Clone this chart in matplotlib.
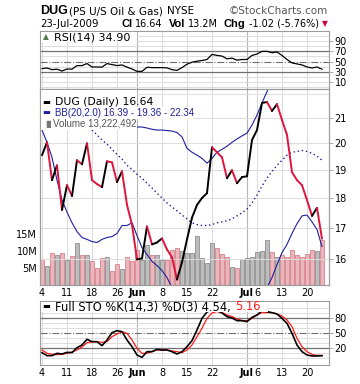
import matplotlib
matplotlib.use("Agg")
import matplotlib.pyplot as plt
import numpy as np
from matplotlib.collections import LineCollection
from matplotlib.patches import Rectangle
from matplotlib.ticker import NullFormatter, NullLocator

# ---------------------------------------------------------------------------
# Data (4-May-2009 .. 23-Jul-2009, 57 sessions)
# ---------------------------------------------------------------------------
tick_idx = [0, 5, 10, 15, 19, 24, 29, 34, 41, 43, 48, 53]
tick_labels = ["4", "11", "18", "26", "Jun", "8", "15", "22", "Jul", "6", "13", "20"]
month_labels = ["Jun", "Jul"]

close = [19.55, 20.04, 18.63, 19.17, 17.59, 18.45, 18.07, 19.36, 19.21, 20.00,
         18.63, 18.49, 18.38, 19.32, 19.28, 18.56, 18.95, 17.76, 17.10, 15.99,
         16.02, 17.04, 16.46, 16.52, 16.65, 16.30, 16.05, 15.38, 15.90, 16.62,
         17.33, 17.76, 18.00, 18.17, 19.85, 19.66, 19.47, 18.70, 18.99, 18.52,
         18.74, 18.77, 20.13, 20.52, 21.62, 21.66, 21.29, 21.57, 20.92, 20.33,
         18.92, 18.63, 18.45, 17.93, 17.39, 17.66, 16.64]

bb_lower = [20.52, 20.04, 19.47, 18.63, 17.93, 17.52, 17.16, 16.87, 16.68, 16.62,
            16.55, 16.52, 16.62, 16.68, 16.71, 16.81, 17.07, 17.07, 17.16, 16.74,
            16.36, 16.14, 15.93, 15.80, 15.65, 15.44, 15.15, 14.86, 14.66, 14.60,
            14.50, 14.45, 14.40, 14.35, 14.30, 14.30, 14.30, 14.30, 14.35, 14.40,
            14.50, 14.60, 14.70, 14.85, 15.00, 15.15, 15.44, 15.83, 16.20, 16.46,
            16.81, 17.13, 17.39, 17.42, 17.19, 16.94, 16.39]

bb_mid = [22.6, 22.4, 22.2, 22.0, 21.8, 21.6, 21.4, 21.2, 21.0, 20.8,
          20.52, 20.33, 20.13, 19.97, 19.77, 19.58, 19.40, 19.17, 19.02, 18.84,
          18.70, 18.52, 18.35, 18.17, 18.00, 17.83, 17.69, 17.56, 17.42, 17.29,
          17.16, 17.10, 17.07, 17.07, 17.10, 17.16, 17.19, 17.23, 17.29, 17.39,
          17.49, 17.62, 17.83, 18.10, 18.42, 18.70, 18.95, 19.17, 19.36, 19.55,
          19.66, 19.69, 19.73, 19.69, 19.62, 19.51, 19.36]

bb_upper = [24.7, 24.8, 24.9, 25.4, 25.7, 25.7, 25.6, 25.5, 25.3, 25.0,
            24.5, 24.1, 23.6, 23.3, 22.8, 22.25, 21.8, 21.3, 20.85, 20.64,
            20.64, 20.60, 20.55, 20.52, 20.52, 20.50, 20.48, 20.42, 20.25, 19.81,
            19.66, 19.55, 19.43, 19.25, 19.43, 19.66, 19.77, 19.89, 20.04, 20.17,
            20.29, 20.40, 20.72, 21.12, 21.62, 22.10, 22.60, 23.00, 23.30, 23.40,
            23.40, 23.30, 23.10, 22.90, 22.70, 22.50, 22.34]

volume_m = [7.6, 5.5, 9.4, 8.7, 9.3, 7.3, 8.4, 12.3, 8.8, 8.8,
            7.1, 5.0, 7.9, 8.2, 4.1, 6.2, 4.6, 8.2, 7.1, 10.3,
            7.3, 11.7, 8.8, 8.7, 7.3, 7.3, 10.3, 10.8, 10.0, 9.5,
            9.5, 14.4, 7.9, 6.5, 12.2, 10.8, 9.0, 8.2, 5.3, 4.9,
            7.6, 7.9, 8.2, 9.8, 10.0, 13.2, 9.7, 8.2, 8.7, 8.2,
            10.2, 8.7, 8.2, 9.0, 10.4, 10.0, 13.22]

rsi = [36, 37.3, 34, 35, 31.3, 35.3, 35, 42, 42, 46,
       39.3, 39.3, 39, 46, 44, 42, 43.3, 39, 35.3, 30.7,
       30.7, 38.7, 38, 38, 38, 37.5, 34, 32.7, 38, 44.7,
       48.7, 50.7, 52, 54, 64, 62, 60.7, 55.3, 56.7, 52.7,
       54, 54, 62, 64.7, 70, 70, 67.3, 68.7, 62, 54,
       47.3, 45.3, 43.3, 39.3, 37.3, 39.3, 34.9]

sto_k = [10.7, 4.7, 4.7, 9.3, 8, 11.3, 10.7, 20.7, 26, 37.3,
         32.7, 32.7, 24.7, 36, 50.7, 54.7, 52.7, 36, 22.7, 6,
         1.3, 12.7, 12.7, 17.3, 16, 16, 12.7, 8, 12.7, 22.7,
         34.7, 56, 79.3, 92, 97, 95, 90, 82.7, 80, 74.7,
         74.7, 72.7, 81.3, 86, 94.7, 92.7, 90.7, 88, 79.3, 69.3,
         49.3, 26, 12.7, 6, 4, 4, 4.54]

sto_d = [16, 9.3, 7.5, 6.7, 7.5, 9.3, 12, 16, 22, 30.7,
         32, 32.7, 31.3, 32.7, 42.7, 48, 52.7, 49.3, 36, 19.3,
         9.3, 9.3, 12.7, 16, 16, 16, 14, 12.7, 10.7, 16,
         26, 42.7, 59.3, 79.3, 90, 93, 91, 86, 83, 78,
         74.7, 74.7, 79.3, 86, 90.7, 90.7, 90.7, 88, 84, 76,
         62.7, 39.3, 22.7, 12.7, 7, 5.3, 5.16]

# ---------------------------------------------------------------------------
W, H = 360, 384
UP = "#000000"
DOWN = "#e0143c"
NAVY = "#1f1f9c"
GRID = "#dcdcdc"
GRID_DARK = "#b4b4b4"
SPINE = "#9c9c9c"
FS = 7
ARIAL = ["Liberation Sans", "DejaVu Sans"]

plt.rcParams["font.family"] = ["DejaVu Sans"]

fig = plt.figure(figsize=(W / 100, H / 100), dpi=100)
renderer = fig.canvas.get_renderer()


def box(x0, y0, x1, y1):
    return [x0 / W, 1 - y1 / H, (x1 - x0) / W, (y1 - y0) / H]


def fx(x):
    return x / W


def fy(y):
    return 1 - y / H


def chain(x0, y, parts):
    # place text pieces one after another on a row (pixel units)
    xx = x0
    for s, gap, kw in parts:
        t = fig.text(fx(xx), fy(y), s, va="center", **kw)
        xx = t.get_window_extent(renderer).x1 + gap
    return xx


ax_rsi = fig.add_axes(box(40, 31, 329, 89))
ax_vol = fig.add_axes(box(40, 89, 329, 285))
ax_px = ax_vol.twinx()
ax_sto = fig.add_axes(box(40, 301, 329, 365))

n = len(close)
x = np.arange(n)
xlim = (-0.4, n + 0.4)


def style_panel(ax):
    ax.set_xlim(*xlim)
    for sp in ax.spines.values():
        sp.set_color(SPINE)
        sp.set_linewidth(0.8)
    for i, lab in zip(tick_idx, tick_labels):
        ax.axvline(i, color=GRID_DARK if lab in month_labels else GRID,
                   lw=0.8, zorder=0)


def right_ticks(ax, vals, labels):
    ax.yaxis.tick_right()
    ax.yaxis.set_minor_locator(NullLocator())
    ax.yaxis.set_minor_formatter(NullFormatter())
    ax.set_yticks(vals)
    ax.set_yticklabels(labels)
    ax.tick_params(axis="y", which="major", length=3, width=0.6,
                   color=SPINE, labelsize=FS, pad=1)


def bottom_labels(ax):
    ax.set_xticks(tick_idx)
    ax.set_xticklabels(tick_labels)
    ax.tick_params(axis="x", length=0, labelsize=FS, pad=2)
    for lab in ax.get_xticklabels():
        if lab.get_text() in month_labels:
            lab.set_fontweight("bold")


# ---- RSI panel -------------------------------------------------------------
style_panel(ax_rsi)
ax_rsi.set_ylim(-4, 110)
for v in range(0, 101, 10):
    if v in (30, 70):
        ax_rsi.axhline(v, color="#707070", lw=0.9, zorder=1)
    elif v == 50:
        ax_rsi.axhline(v, color="#707070", lw=0.8, ls="-.", zorder=1)
    else:
        ax_rsi.axhline(v, color=GRID, lw=0.7, zorder=0)
ax_rsi.plot(x, rsi, color="black", lw=0.9, zorder=3)
right_ticks(ax_rsi, [10, 30, 50, 70, 90], ["10", "30", "50", "70", "90"])
ax_rsi.set_xticks([])

# ---- main panel: volume (left) + price/BB (right, log) ---------------------
style_panel(ax_vol)
ax_vol.set_ylim(0, 57.6)
vol_fill = ["#bdbdbd" if (i > 0 and close[i] >= close[i - 1]) else "#e8b6bb"
            for i in range(n)]
vol_edge = ["#8e8e8e" if (i > 0 and close[i] >= close[i - 1]) else "#d8808c"
            for i in range(n)]
ax_vol.bar(x, volume_m, width=0.92, color=vol_fill, edgecolor=vol_edge,
           linewidth=0.6, zorder=2)
ax_vol.set_yticks([5, 10, 15])
ax_vol.set_yticklabels(["5M", "10M", "15M"])
ax_vol.tick_params(axis="y", length=0, labelsize=FS, pad=2)
bottom_labels(ax_vol)

ax_px.set_yscale("log")
ax_px.set_xlim(*xlim)
ax_px.set_ylim(15.22, 22.21)
for p in range(15, 23):
    ax_px.axhline(p, color=GRID, lw=0.7, zorder=0)
ax_px.plot(x, bb_upper, color=NAVY, lw=0.8, zorder=2)
ax_px.plot(x, bb_lower, color=NAVY, lw=0.8, zorder=2)
ax_px.plot(x, bb_mid, color=NAVY, lw=1.0, ls=(0, (1, 2)), zorder=2)
segs = [[(x[i], close[i]), (x[i + 1], close[i + 1])] for i in range(n - 1)]
seg_cols = [UP if close[i + 1] >= close[i] else DOWN for i in range(n - 1)]
ax_px.add_collection(LineCollection(segs, colors=seg_cols, linewidths=1.4,
                                    capstyle="round", joinstyle="round",
                                    zorder=3))
right_ticks(ax_px, [16, 17, 18, 19, 20, 21], ["16", "17", "18", "19", "20", "21"])
for sp in ax_px.spines.values():
    sp.set_color(SPINE)
    sp.set_linewidth(0.8)

# ---- STO panel -------------------------------------------------------------
style_panel(ax_sto)
ax_sto.set_ylim(-14, 114)
for v in range(0, 101, 10):
    if v in (20, 80):
        ax_sto.axhline(v, color="#707070", lw=0.9, zorder=1)
    elif v == 50:
        ax_sto.axhline(v, color="#707070", lw=0.8, ls="-.", zorder=1)
    else:
        ax_sto.axhline(v, color=GRID, lw=0.7, zorder=0)
ax_sto.plot(x, sto_d, color="#ff1a1a", lw=0.9, zorder=3)
ax_sto.plot(x, sto_k, color="black", lw=1.2, zorder=4)
right_ticks(ax_sto, [20, 50, 80], ["20", "50", "80"])
bottom_labels(ax_sto)

# ---- legends (white boxes over the panels) ---------------------------------
for (x0, y0, x1, y1) in [(41, 90, 137, 130), (137, 107, 193, 119),
                         (41, 32, 137, 42), (41, 302, 268, 312)]:
    fig.patches.append(Rectangle((fx(x0), fy(y1)), (x1 - x0) / W, (y1 - y0) / H,
                                 transform=fig.transFigure, facecolor="white",
                                 edgecolor="none", zorder=1))

fig.text(fx(43), fy(37), "\u25b2", color="#4e7a4e", fontsize=5.5, va="center")
fig.text(fx(54), fy(37), "RSI(14) 34.90", fontsize=8, va="center")

fig.text(fx(42), fy(102), "\u25ac", fontsize=6, va="center", color="black")
fig.text(fx(55), fy(102), "DUG (Daily) 16.64", fontsize=7.8, va="center")
fig.text(fx(42), fy(113), "\u25ac", fontsize=6, va="center", color=NAVY)
fig.text(fx(55), fy(113), "BB(20,2.0) 16.39 - 19.36 - 22.34", fontsize=7,
         family=ARIAL, va="center", color=NAVY)
fig.text(fx(43), fy(124), "\u2590\u258c", fontsize=5, va="center", color="#777777")
fig.text(fx(53), fy(124), "Volume 13,222,492", fontsize=7, family=ARIAL,
         va="center", color="#555555")

fig.text(fx(42), fy(307), "\u25ac", fontsize=6, va="center", color="black")
chain(55, 307, [("Full STO %K(14,3) %D(3) 4.54,", 4, dict(fontsize=8.3)),
                ("5.16", 0, dict(fontsize=8.3, color="#ff1a1a"))])

# ---- header ----------------------------------------------------------------
fig.text(fx(40), fy(11), "DUG", fontsize=9, fontweight="bold",
         family=ARIAL, va="center")
fig.text(fx(69), fy(11), "(PS U/S Oil & Gas)", fontsize=7.5, va="center")
fig.text(fx(167), fy(11), "NYSE", fontsize=7.5, va="center")
fig.text(fx(328), fy(11), "\u00a9StockCharts.com", fontsize=7.5, va="center",
         ha="right", color="#555555")

fig.text(fx(40), fy(24), "23-Jul-2009", fontsize=7.3, va="center")
bold = dict(fontsize=8, fontweight="bold", family=ARIAL)
plain = dict(fontsize=7)
end = chain(121, 24, [("Cl", 3, bold), ("16.64", 6, plain),
                      ("Vol", 3, bold), ("13.2M", 6, plain),
                      ("Chg", 3, bold), ("-1.02 (-5.76%)", 3, plain)])
fig.text(fx(end), fy(24), "\u25bc", fontsize=5.5, va="center", color="#cc0033")

fig.savefig("out.png", dpi=100, facecolor="white")
